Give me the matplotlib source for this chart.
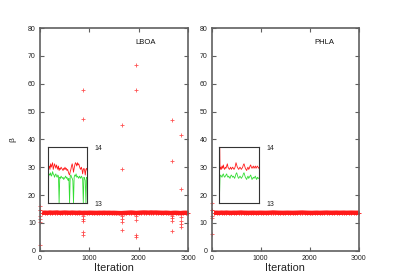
import matplotlib
matplotlib.use('Agg')
import matplotlib.pyplot as plt
import numpy as np

plt.rcParams['font.family'] = ['Liberation Sans', 'DejaVu Sans']

# iterations at which the beta band is sampled (every 50 iterations)
iters = list(range(0, 3001, 50))

# LBOA: best beta (red) and second series (green)
lboa_red = [14.6, 13.62, 13.66, 13.6, 13.7, 13.64, 13.68, 13.72, 13.6, 13.65, 13.7,
            13.66, 13.62, 13.68, 13.64, 13.6, 13.66, 13.58, 13.62, 13.6, 13.64,
            13.62, 13.6, 13.58, 13.62, 13.6, 13.64, 13.6, 13.62, 13.58, 13.6,
            13.56, 13.52, 13.5, 13.56, 13.6, 13.66, 13.7, 13.64, 13.55, 13.62,
            13.68, 13.72, 13.7, 13.66, 13.72, 13.68, 13.7, 13.66, 13.62, 13.6,
            13.64, 13.6, 13.52, 13.6, 13.62, 13.58, 13.5, 13.6, 13.62, 13.58]
lboa_green = [13.0, 13.48, 13.52, 13.5, 13.54, 13.48, 13.5, 13.56, 13.52, 13.5, 13.46,
              13.5, 13.52, 13.48, 13.46, 13.5, 13.48, 13.0, 13.46, 13.44, 13.48,
              13.46, 13.44, 13.46, 13.42, 13.44, 13.46, 13.48, 13.44, 13.46, 13.42,
              13.4, 13.44, 13.0, 13.48, 13.5, 13.46, 13.44, 13.4, 13.0, 13.46,
              13.5, 13.48, 13.52, 13.46, 13.48, 13.46, 13.44, 13.48, 13.46, 13.44,
              13.48, 13.46, 13.42, 13.0, 13.46, 13.44, 13.4, 13.0, 13.46, 13.44]

# PHLA
phla_red = [14.8, 13.6, 13.64, 13.6, 13.66, 13.62, 13.68, 13.62, 13.6, 13.64, 13.62,
            13.66, 13.7, 13.64, 13.62, 13.6, 13.62, 13.64, 13.6, 13.62, 13.64,
            13.62, 13.6, 13.62, 13.66, 13.72, 13.68, 13.64, 13.62, 13.6, 13.62,
            13.64, 13.62, 13.6, 13.62, 13.64, 13.68, 13.7, 13.66, 13.62, 13.6,
            13.58, 13.62, 13.64, 13.6, 13.62, 13.66, 13.68, 13.64, 13.62, 13.64,
            13.66, 13.62, 13.64, 13.66, 13.62, 13.64, 13.66, 13.64, 13.62, 13.64]
phla_green = [13.0, 13.46, 13.5, 13.48, 13.46, 13.5, 13.52, 13.48, 13.46, 13.48, 13.5,
              13.52, 13.48, 13.46, 13.48, 13.46, 13.44, 13.48, 13.5, 13.48, 13.46,
              13.48, 13.46, 13.44, 13.48, 13.52, 13.54, 13.5, 13.46, 13.44, 13.46,
              13.48, 13.46, 13.44, 13.46, 13.48, 13.52, 13.54, 13.5, 13.46, 13.44,
              13.42, 13.46, 13.48, 13.44, 13.46, 13.48, 13.5, 13.46, 13.42, 13.44,
              13.46, 13.44, 13.46, 13.48, 13.44, 13.42, 13.46, 13.44, 13.44, 13.46]

# scattered outliers (iteration, beta)
lboa_out_x = [865, 865, 865, 865, 865, 865, 865,
              1669, 1669, 1669, 1669, 1669, 1669,
              1953, 1953, 1953, 1953, 1953, 1953,
              2669, 2669, 2669, 2669, 2669, 2669,
              2858, 2858, 2858, 2858, 2858, 2858,
              0, 0, 0, 0, 0]
lboa_out_y = [57.8, 47.3, 12.5, 11.3, 10.7, 6.6, 5.5,
              45.1, 29.5, 12.5, 11.3, 10.3, 7.4,
              66.7, 57.7, 12.3, 11.2, 5.5, 4.8,
              46.8, 32.1, 12.4, 11.6, 10.5, 7.2,
              41.5, 22.1, 12.2, 10.7, 9.6, 8.4,
              16.2, 12.5, 11.3, 10.3, 2.0]
phla_out_x = [0, 0, 0, 0]
phla_out_y = [17.0, 12.4, 11.8, 6.0]

spine_col = '#606060'
red = '#ff1a1a'
green = '#33dd33'

fig = plt.figure(figsize=(3.99, 2.79), dpi=100)

panels = [
    ('LBOA', lboa_red, lboa_green, lboa_out_x, lboa_out_y,
     [0.1003, 0.1014, 0.3709, 0.798], [0.1203, 0.2724, 0.0983, 0.2007], 0.716),
    ('PHLA', phla_red, phla_green, phla_out_x, phla_out_y,
     [0.5306, 0.1014, 0.3684, 0.798], [0.5497, 0.2724, 0.1003, 0.2007], 0.764),
]

for i, (name, r, g, ox, oy, box, ibox, tx) in enumerate(panels):
    ax = fig.add_axes(box)
    # dense band of points around beta ~ 13.6
    ax.plot(iters[1:], r[1:], '-', color=red, lw=3.2, solid_capstyle='butt')
    ax.plot(iters, r, '+', color=red, ms=3.5, mew=0.7, alpha=0.9, clip_on=False)
    ax.plot(ox, oy, '+', color=red, ms=3.5, mew=0.6, alpha=0.75, clip_on=False)
    ax.set_xlim(0, 3000)
    ax.set_ylim(0, 80)
    ax.set_xticks([0, 1000, 2000, 3000])
    ax.set_yticks(range(0, 81, 10))
    ax.tick_params(direction='in', length=3, width=0.8, colors=spine_col,
                   labelcolor='#222222', labelsize=5, top=True, right=True, pad=3)
    for s in ax.spines.values():
        s.set_color(spine_col)
        s.set_linewidth(1.2)
    ax.set_xlabel('Iteration', fontsize=7.8, labelpad=1, color='#222222')
    if i == 0:
        ax.set_ylabel('β', fontsize=6, labelpad=8, color='#222222')
    ax.text(tx, 0.934, name, transform=ax.transAxes, ha='center', va='center',
            fontsize=5.5, color='#111111')

    ins = fig.add_axes(ibox)
    ins.plot(iters, r, '-', color=red, lw=0.6)
    ins.plot(iters, g, '-', color=green, lw=0.6)
    ins.set_xlim(0, 3000)
    ins.set_ylim(13, 14)
    ins.set_xticks([])
    ins.yaxis.tick_right()
    ins.set_yticks([13, 14])
    ins.tick_params(length=0, labelsize=5, pad=5, labelcolor='#222222')
    for s in ins.spines.values():
        s.set_color('#333333')
        s.set_linewidth(0.8)

plt.savefig('out.png', dpi=100)
